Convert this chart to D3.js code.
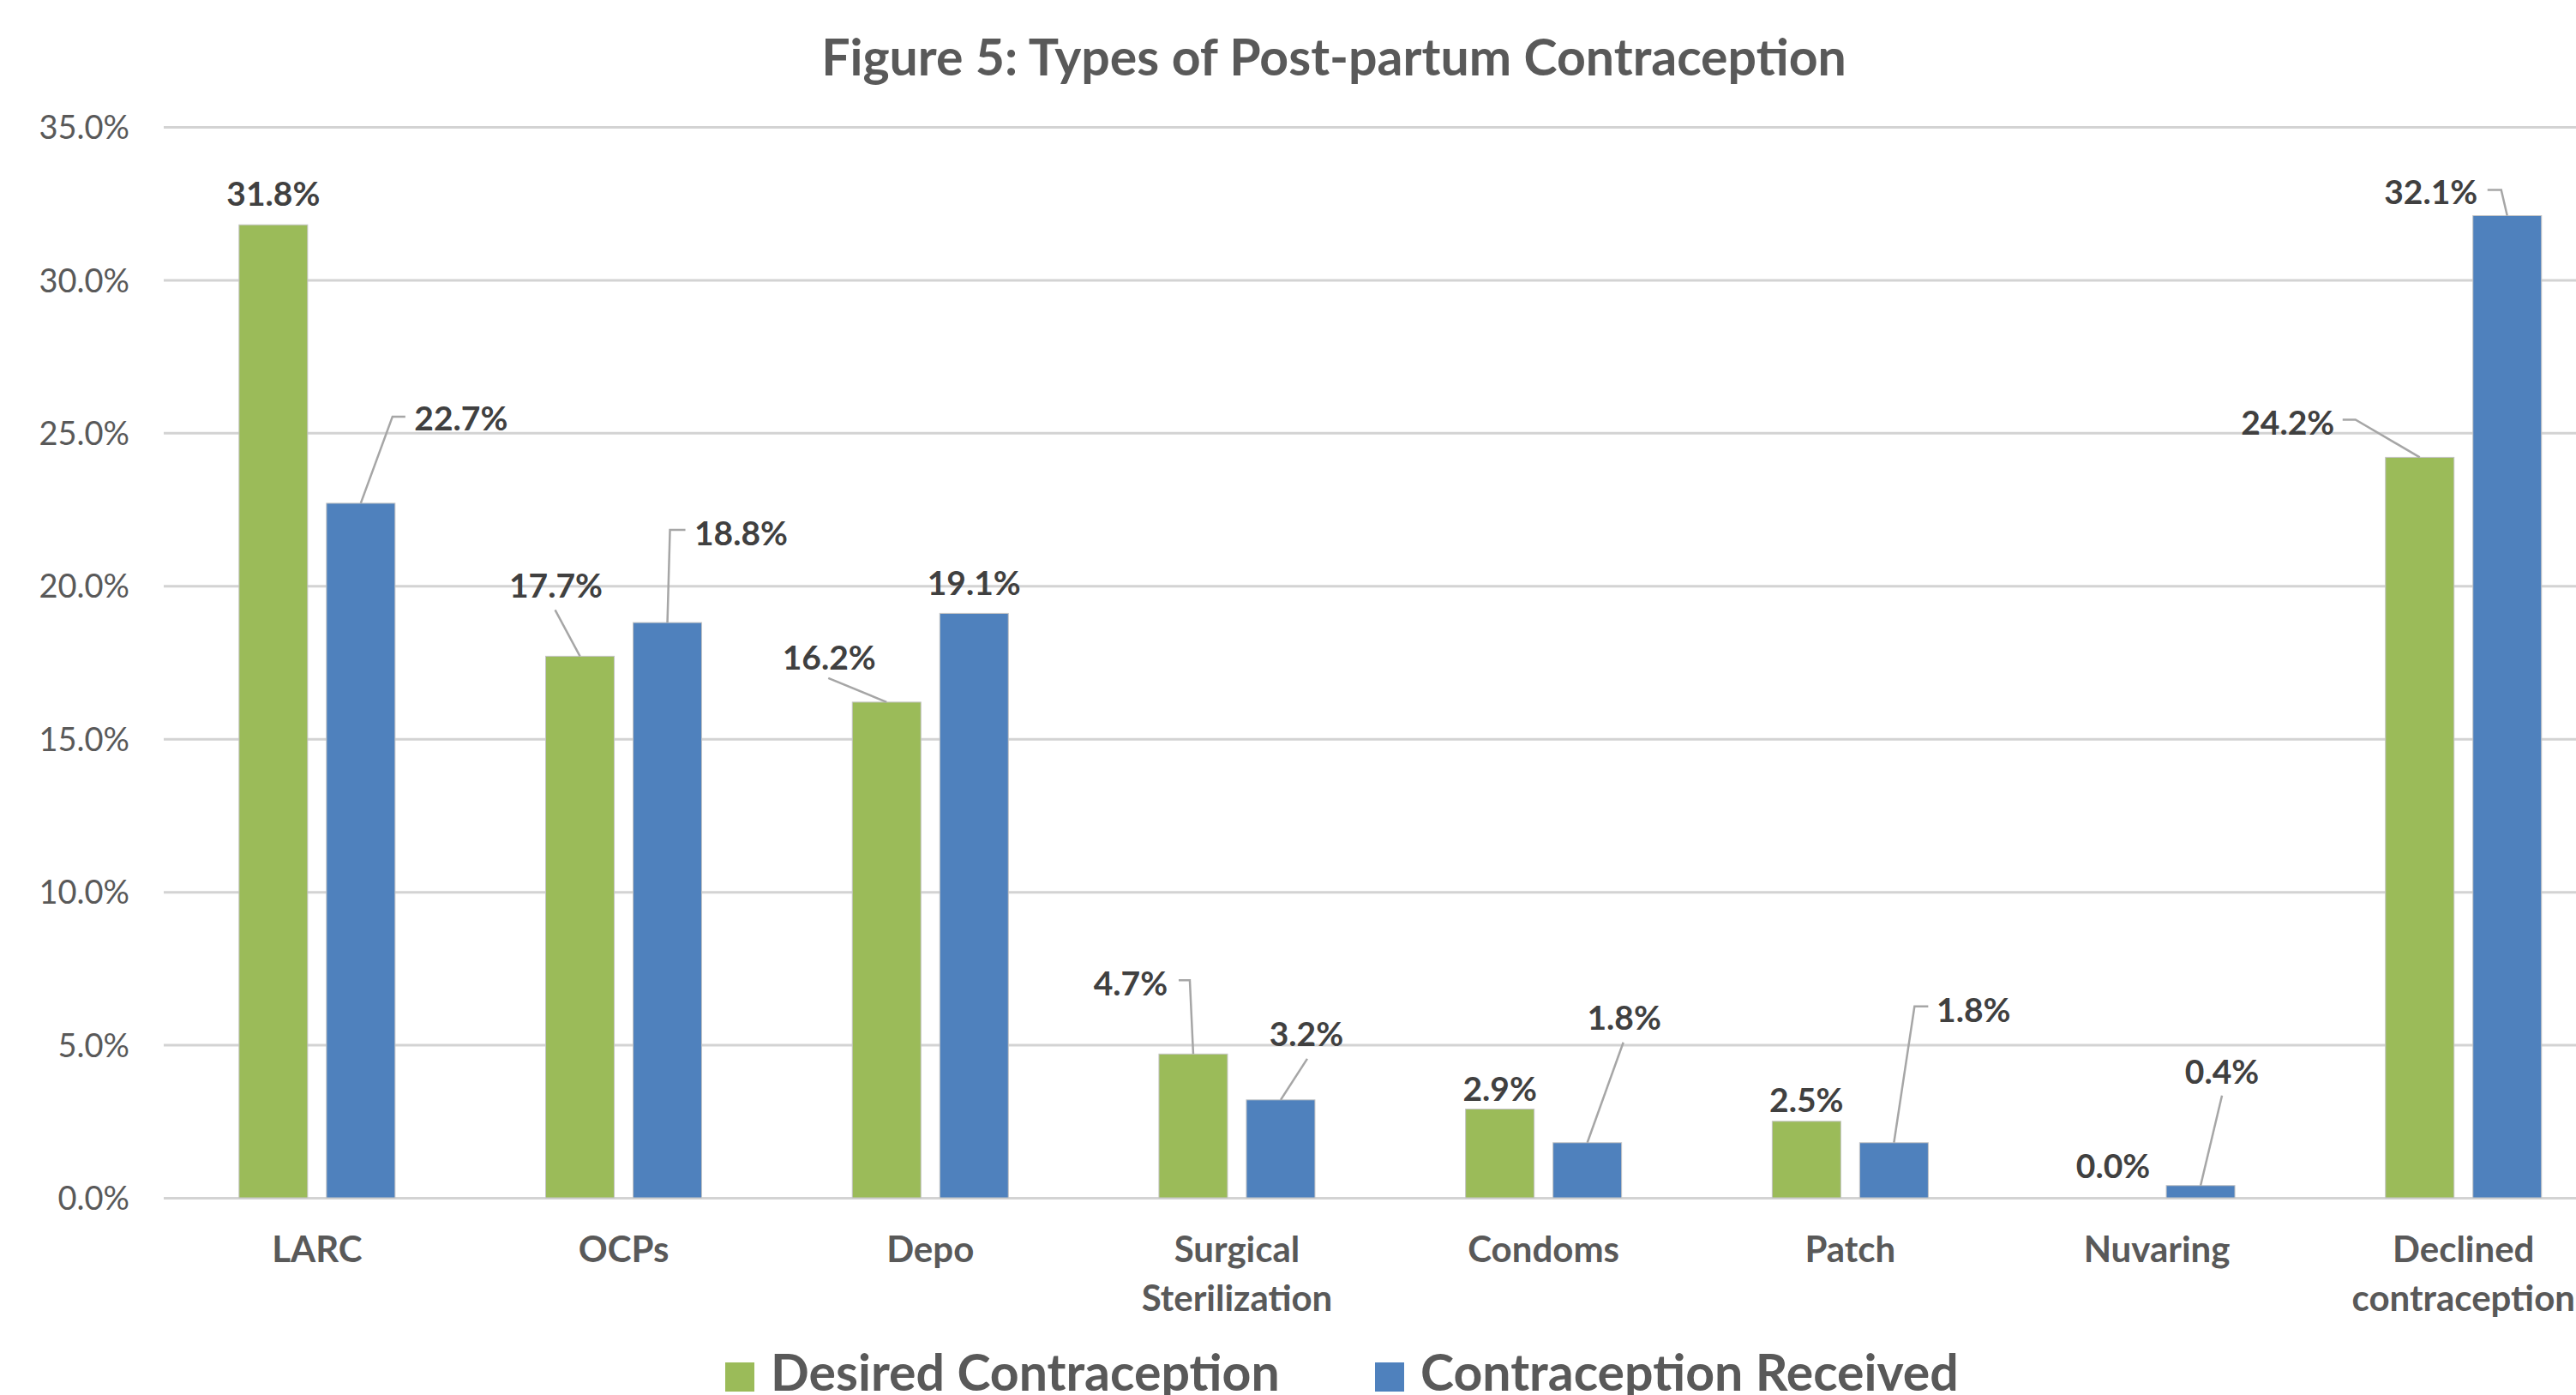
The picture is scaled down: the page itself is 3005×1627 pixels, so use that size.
<!DOCTYPE html>
<html>
<head>
<meta charset="utf-8">
<script src="https://cdn.jsdelivr.net/npm/d3@7"></script>
<style>
  body { margin: 0; background: #fff; }
  svg { display: block; font-family: Lato, "Open Sans", sans-serif; }
</style>
</head>
<body>
<div id="wrapper"></div>
<script>
// data (percent)
const categories = ["LARC", "OCPs", "Depo", "Surgical Sterilization", "Condoms", "Patch", "Nuvaring", "Declined contraception"]
const seriesNames = ["Desired Contraception", "Contraception Received"]
const desired = [31.8, 17.7, 16.2, 4.7, 2.9, 2.5, 0.0, 24.2]
const received = [22.7, 18.8, 19.1, 3.2, 1.8, 1.8, 0.4, 32.1]
const yTicks = [0, 5, 10, 15, 20, 25, 30, 35]
const colors = ["#9BBB59", "#4F81BD"]

// where Excel's dragged labels sit, relative to the top of their bar (px)
// t = text centre, l = leader line points (the line ends at the bar top)
const labelLayout = [
  [
    { t: [0, -36] },
    { t: [-28, -82], l: [[-29, -54]] },
    { t: [-67, -52], l: [[-68, -28]] },
    { t: [-73, -82], l: [[-17, -86], [-4, -86]] },
    { t: [0, -24] },
    { t: [0, -25] },
    { t: [0, -37] },
    { t: [-154, -40], l: [[-90, -44], [-75, -44]] },
  ],
  [
    { t: [117, -99], l: [[52, -101], [37, -101]] },
    { t: [86, -104], l: [[21, -108], [3, -108]] },
    { t: [0, -35] },
    { t: [30, -77], l: [[31, -48]] },
    { t: [43, -146], l: [[42, -117]] },
    { t: [93, -155], l: [[40, -159], [24, -159]] },
    { t: [25, -133], l: [[25, -105]] },
    { t: [-89, -28], l: [[-23, -30], [-7, -30]] },
  ],
]

const width = 3005
const height = 1627
const plot = { left: 191, top: 148, bottom: 1397, step: 357.7 }

const svg = d3.select("#wrapper")
  .append("svg")
    .attr("width", width)
    .attr("height", height)

// scales
const x0 = d3.scaleBand()
  .domain(categories)
  .range([plot.left, plot.left + plot.step * categories.length])
  .padding(0)

const x1 = d3.scaleBand()
  .domain(seriesNames)
  .range([x0.bandwidth() / 2 - 91, x0.bandwidth() / 2 + 91])
  .paddingInner(0.2157)

const yScale = d3.scaleLinear()
  .domain([0, 35])
  .range([plot.bottom, plot.top])

// gridlines
const grid = svg.append("g")
    .attr("transform", `translate(${plot.left},0)`)
    .call(d3.axisLeft(yScale)
      .tickValues(yTicks)
      .tickSize(-(x0.range()[1] - plot.left))
      .tickFormat(""))
grid.select(".domain").remove()
grid.selectAll("line")
    .attr("stroke", "#d3d3d3")
    .attr("stroke-width", 3)

// y axis labels
const yAxis = svg.append("g")
    .attr("transform", `translate(${plot.left},0)`)
    .call(d3.axisLeft(yScale)
      .tickValues(yTicks)
      .tickSize(0)
      .tickPadding(40)
      .tickFormat(d => d.toFixed(1) + "%"))
yAxis.select(".domain").remove()
yAxis.selectAll("text")
    .attr("fill", "#595959")
    .style("font-size", "38px")
    .style("font-family", "Lato, sans-serif")
    .attr("dy", "0.36em")

// bars
const seriesData = [desired, received]
const groups = svg.append("g").selectAll("g")
  .data(seriesData)
  .join("g")
    .attr("fill", (d, i) => colors[i])

groups.selectAll("rect")
  .data((vals, si) => vals.map((v, ci) => ({ v, ci, si })))
  .join("rect")
    .attr("x", d => x0(categories[d.ci]) + x1(seriesNames[d.si]))
    .attr("y", d => yScale(d.v))
    .attr("width", x1.bandwidth())
    .attr("height", d => yScale(0) - yScale(d.v))
    .attr("stroke", "#c4c4c4")
    .attr("stroke-width", 1)

// data labels + leader lines
const labelData = []
seriesData.forEach((vals, si) => vals.forEach((v, ci) => {
  const bx = x0(categories[ci]) + x1(seriesNames[si]) + x1.bandwidth() / 2
  const by = yScale(v)
  labelData.push({ v, bx, by, lay: labelLayout[si][ci] })
}))

const leader = d3.line()
svg.append("g").selectAll("path")
  .data(labelData.filter(d => d.lay.l))
  .join("path")
    .attr("d", d => leader([...d.lay.l.map(p => [d.bx + p[0], d.by + p[1]]), [d.bx, d.by]]))
    .attr("fill", "none")
    .attr("stroke", "#a6a6a6")
    .attr("stroke-width", 2.5)

svg.append("g").selectAll("text")
  .data(labelData)
  .join("text")
    .attr("x", d => d.bx + d.lay.t[0])
    .attr("y", d => d.by + d.lay.t[1])
    .attr("dy", "0.36em")
    .attr("text-anchor", "middle")
    .attr("fill", "#404040")
    .style("font-size", "39px")
    .style("font-weight", "bold")
    .text(d => d.v.toFixed(1) + "%")

// x axis category labels
const xAxis = svg.append("g")
    .attr("transform", `translate(0,${plot.bottom})`)
    .call(d3.axisBottom(x0).tickSize(0))
xAxis.select(".domain").remove()
xAxis.selectAll("text")
    .attr("y", 75)
    .attr("dy", null)
    .attr("fill", "#595959")
    .style("font-size", "42px")
    .style("font-weight", "bold")
    .style("font-family", "Lato, sans-serif")
    .each(function(d) {
      const words = d.split(" ")
      const t = d3.select(this).text(null)
      words.forEach((w, i) => t.append("tspan")
        .attr("x", 0)
        .attr("dy", i === 0 ? 0 : 57)
        .text(w))
    })

// title
svg.append("text")
    .attr("x", 1556)
    .attr("y", 88)
    .attr("text-anchor", "middle")
    .attr("fill", "#595959")
    .style("font-size", "59px")
    .style("font-weight", "bold")
    .text("Figure 5: Types of Post-partum Contraception")

// legend
const legendX = [846, 1604]
const legend = svg.append("g").selectAll("g")
  .data(seriesNames)
  .join("g")
    .attr("transform", (d, i) => `translate(${legendX[i]},1589)`)
legend.append("rect")
    .attr("width", 34)
    .attr("height", 34)
    .attr("fill", (d, i) => colors[i])
legend.append("text")
    .attr("x", 53)
    .attr("y", 33)
    .attr("fill", "#595959")
    .style("font-size", "59px")
    .style("font-weight", "bold")
    .text(d => d)
</script>
</body>
</html>
